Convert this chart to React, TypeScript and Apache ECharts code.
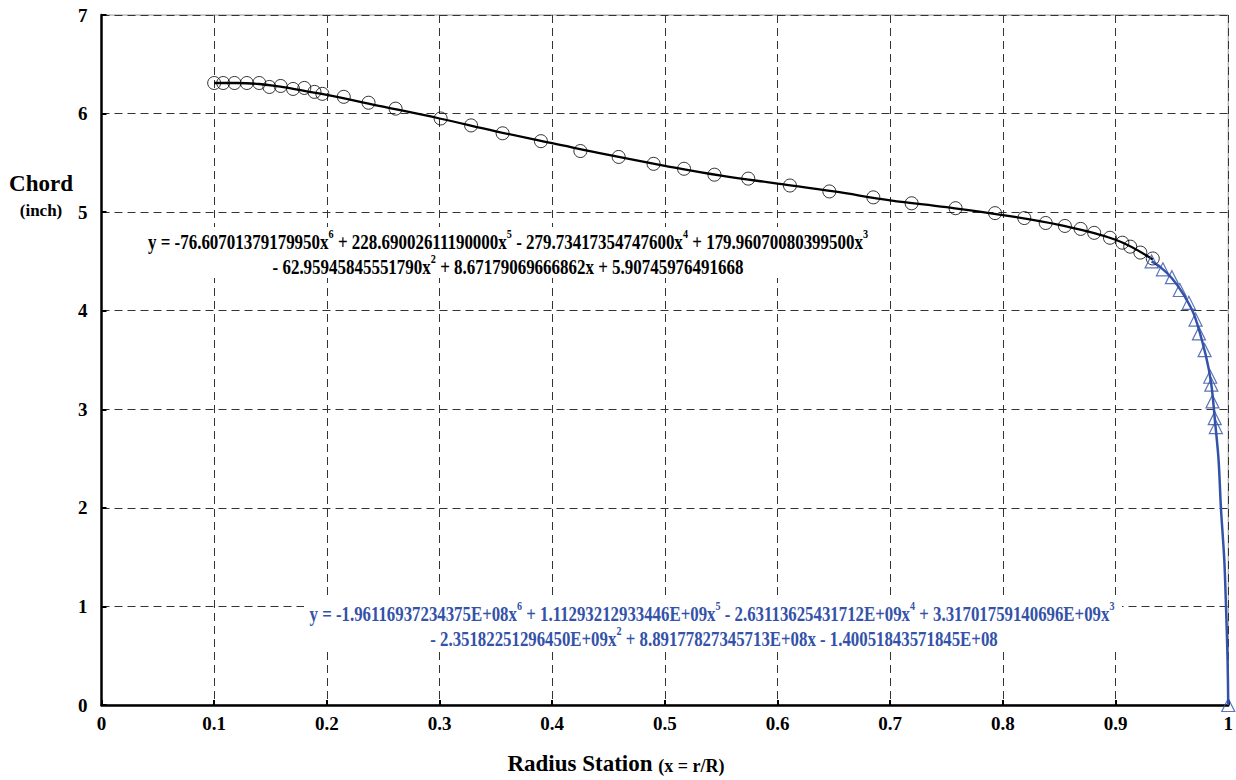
import React, { useEffect, useRef } from "react";
import * as echarts from "echarts";

// ---- data ----
const circleX = [0.1, 0.108, 0.118, 0.129, 0.14, 0.149, 0.159, 0.17, 0.18, 0.189, 0.196, 0.215, 0.237, 0.261, 0.301, 0.328, 0.356, 0.39, 0.425, 0.459, 0.49, 0.517, 0.544, 0.574, 0.611, 0.646, 0.685, 0.719, 0.758, 0.793, 0.819, 0.838, 0.855, 0.869, 0.881, 0.895, 0.906, 0.913, 0.922, 0.933];
const circleY = [6.31, 6.31, 6.31, 6.31, 6.31, 6.27, 6.28, 6.25, 6.26, 6.22, 6.2, 6.17, 6.11, 6.05, 5.95, 5.88, 5.8, 5.72, 5.62, 5.56, 5.49, 5.44, 5.38, 5.34, 5.27, 5.21, 5.15, 5.09, 5.04, 4.99, 4.94, 4.89, 4.86, 4.83, 4.79, 4.74, 4.69, 4.65, 4.59, 4.53];

const triX = [0.932, 0.942, 0.95, 0.957, 0.965, 0.971, 0.974, 0.979, 0.984, 0.985, 0.986, 0.988, 0.989, 1.0];
const triY = [4.5, 4.42, 4.34, 4.21, 4.08, 3.91, 3.77, 3.6, 3.33, 3.25, 3.08, 2.91, 2.82, 0];

const trendBlackX = [0.1, 0.12, 0.14, 0.16, 0.18, 0.2, 0.25, 0.3, 0.35, 0.4, 0.45, 0.5, 0.55, 0.6, 0.65, 0.7, 0.75, 0.8, 0.85, 0.9, 0.933];
const trendBlackY = [6.31, 6.31, 6.3, 6.27, 6.23, 6.19, 6.07, 5.95, 5.82, 5.7, 5.58, 5.47, 5.37, 5.29, 5.21, 5.12, 5.05, 4.97, 4.87, 4.72, 4.52];

const trendBlueX = [0.932, 0.94, 0.95, 0.96, 0.97, 0.98, 0.985, 0.9885, 0.9914, 0.9935, 0.9965, 0.998, 0.9994, 1.0];
const trendBlueY = [4.5, 4.44, 4.33, 4.17, 3.95, 3.55, 3.25, 2.85, 2.49, 2.0, 1.47, 1.0, 0.46, 0];

const xTicks = [0, 0.1, 0.2, 0.3, 0.4, 0.5, 0.6, 0.7, 0.8, 0.9, 1];
const xTickLabels = ["0", "0.1", "0.2", "0.3", "0.4", "0.5", "0.6", "0.7", "0.8", "0.9", "1"];

const eqBlack1: [string, string][] = [["y = -76.60701379179950x", "n"], ["6", "s"], [" + 228.69002611190000x", "n"], ["5", "s"], [" - 279.73417354747600x", "n"], ["4", "s"], [" + 179.96070080399500x", "n"], ["3", "s"]];
const eqBlack2: [string, string][] = [["- 62.95945845551790x", "n"], ["2", "s"], [" + 8.67179069666862x + 5.90745976491668", "n"]];
const eqBlue1: [string, string][] = [["y = -1.96116937234375E+08x", "n"], ["6", "s"], [" + 1.11293212933446E+09x", "n"], ["5", "s"], [" - 2.63113625431712E+09x", "n"], ["4", "s"], [" + 3.31701759140696E+09x", "n"], ["3", "s"]];
const eqBlue2: [string, string][] = [["- 2.35182251296450E+09x", "n"], ["2", "s"], [" + 8.89177827345713E+08x - 1.40051843571845E+08", "n"]];

const FONT = '"Liberation Serif", "Times New Roman", serif';
const BLUE = "#3352a8";
const EQ_N = 20;
const EQ_S = 12;

function measure(parts: [string, string][]): number {
  const c = document.createElement("canvas");
  const ctx = c.getContext("2d");
  if (!ctx) return 1;
  let w = 0;
  for (const [t, k] of parts) {
    ctx.font = `bold ${k === "n" ? EQ_N : EQ_S}px ${FONT}`;
    w += ctx.measureText(t).width;
  }
  return w;
}

function richText(parts: [string, string][]): string {
  return parts.map(([t, k]) => `{${k}|${t}}`).join("");
}

function eqText(parts: [string, string][], cx: number, cy: number, sx: number, color: string) {
  return {
    type: "text",
    x: cx,
    y: cy,
    scaleX: sx,
    z: 5,
    style: {
      text: richText(parts),
      align: "center",
      verticalAlign: "middle",
      fill: color,
      rich: {
        n: { fontFamily: FONT, fontWeight: "bold", fontSize: EQ_N, lineHeight: 24, verticalAlign: "bottom", fill: color },
        s: { fontFamily: FONT, fontWeight: "bold", fontSize: EQ_S, lineHeight: 12, verticalAlign: "top", fill: color },
      },
    },
  };
}

export default function App() {
  const ref = useRef<HTMLDivElement>(null);
  useEffect(() => {
    document.body.style.margin = "0";
    if (!ref.current) return;
    const chart = echarts.init(ref.current, null, { renderer: "svg" });

    const sBlack = 720 / measure(eqBlack1);
    const sBlue = 805 / measure(eqBlue1);

    const circles = circleX.map((x, i) => [x, circleY[i]]);
    const tris = triX.map((x, i) => [x, triY[i]]);
    const tBlack = trendBlackX.map((x, i) => [x, trendBlackY[i]]);
    const tBlue = trendBlueX.map((x, i) => [x, trendBlueY[i]]);

    const axisLabel = { fontFamily: FONT, fontWeight: "bold", fontSize: 19, color: "#000" };
    const split = { show: true, lineStyle: { color: "#333", width: 1, type: [8, 5] } };

    chart.setOption({
      animation: false,
      backgroundColor: "#fff",
      grid: { left: 101.5, right: 7, top: 15, bottom: 75, show: true, borderColor: "#999", borderWidth: 1 },
      xAxis: {
        type: "value",
        min: 0,
        max: 1,
        interval: 0.1,
        axisLine: { show: true, onZero: false, lineStyle: { color: "#000", width: 2.5 } },
        axisTick: { show: true, inside: true, length: 5, lineStyle: { color: "#000", width: 2 } },
        axisLabel: {
          ...axisLabel,
          margin: 9,
          formatter: (v: number) => {
            const i = xTicks.findIndex((t) => Math.abs(t - v) < 1e-6);
            return i >= 0 ? xTickLabels[i] : "";
          },
        },
        splitLine: split,
      },
      yAxis: {
        type: "value",
        min: 0,
        max: 7,
        interval: 1,
        axisLine: { show: true, onZero: false, lineStyle: { color: "#000", width: 2.5 } },
        axisTick: { show: true, inside: true, length: 5, lineStyle: { color: "#000", width: 2 } },
        axisLabel: { ...axisLabel, margin: 14 },
        splitLine: split,
      },
      graphic: [
        { type: "rect", z: 4, shape: { x: 145, y: 227, width: 728, height: 51 }, style: { fill: "#fff" } },
        { type: "rect", z: 4, shape: { x: 304, y: 599, width: 818, height: 51 }, style: { fill: "#fff" } },
        eqText(eqBlack1, 508, 240, sBlack, "#000"),
        eqText(eqBlack2, 508, 265, sBlack, "#000"),
        eqText(eqBlue1, 712, 612, sBlue, BLUE),
        eqText(eqBlue2, 714, 637, sBlue, BLUE),
        {
          type: "text",
          x: 41,
          y: 183,
          z: 5,
          style: { text: "Chord", align: "center", verticalAlign: "middle", font: `bold 23px ${FONT}`, fill: "#000" },
        },
        {
          type: "text",
          x: 41,
          y: 210,
          z: 5,
          style: { text: "(inch)", align: "center", verticalAlign: "middle", font: `bold 17px ${FONT}`, fill: "#000" },
        },
        {
          type: "text",
          x: 616,
          y: 763,
          z: 5,
          style: {
            text: "{a|Radius Station }{b|(x = r/R)}",
            align: "center",
            verticalAlign: "middle",
            rich: {
              a: { fontFamily: FONT, fontWeight: "bold", fontSize: 23, verticalAlign: "bottom", lineHeight: 23, fill: "#000" },
              b: { fontFamily: FONT, fontWeight: "bold", fontSize: 18, verticalAlign: "bottom", lineHeight: 19, fill: "#000" },
            },
          },
        },
      ],
      series: [
        {
          type: "line",
          data: tBlack,
          smooth: 0.4,
          showSymbol: false,
          symbol: "none",
          lineStyle: { color: "#000", width: 2.3 },
          z: 3,
        },
        {
          type: "scatter",
          data: circles,
          symbol: "circle",
          symbolSize: 13,
          itemStyle: { color: "transparent", borderColor: "#000", borderWidth: 1 },
          z: 4,
        },
        {
          type: "line",
          data: tBlue,
          smooth: 0.3,
          showSymbol: false,
          symbol: "none",
          lineStyle: { color: BLUE, width: 2.5 },
          z: 3,
        },
        {
          type: "scatter",
          data: tris,
          symbol: "triangle",
          symbolSize: 13,
          itemStyle: { color: "transparent", borderColor: BLUE, borderWidth: 1.2 },
          z: 4,
        },
      ],
    });
    return () => chart.dispose();
  }, []);
  return <div ref={ref} style={{ position: "absolute", left: 0, top: 0, width: 1236, height: 780 }} />;
}
